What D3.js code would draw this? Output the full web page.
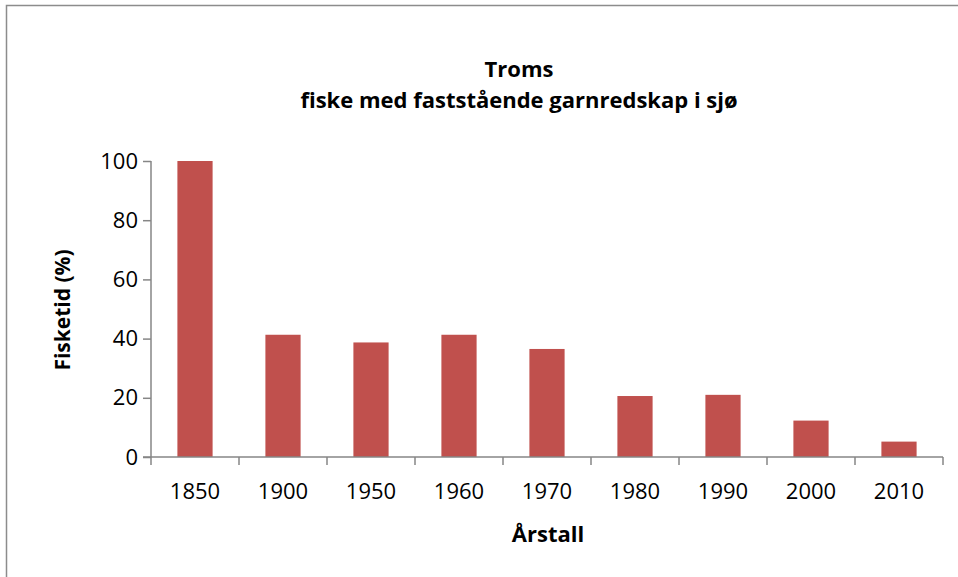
<!DOCTYPE html>
<html>
<head>
<meta charset="utf-8">
<script src="https://cdn.jsdelivr.net/npm/d3@7"></script>
<style>
  body { margin: 0; background: #fff; }
  svg { display: block; }
</style>
</head>
<body>
<svg id="chart"></svg>
<script>
// data
const years = ['1850', '1900', '1950', '1960', '1970', '1980', '1990', '2000', '2010'];
const fisketid = [100, 41.3, 38.7, 41.3, 36.5, 20.6, 21.0, 12.3, 5.2];
const yTicks = [0, 20, 40, 60, 80, 100];
const titleLines = ['Troms', 'fiske med faststående garnredskap i sjø'];

const W = 958, H = 577;
const margin = { top: 161, left: 151, right: 15, bottom: 120 };
const plotW = 943 - margin.left;
const plotH = 457 - margin.top;
const font = "'Open Sans', 'Noto Sans', sans-serif";
const axisColor = '#868686';

const svg = d3.select('#chart').attr('width', W).attr('height', H);

// outer chart border (right and bottom edge fall outside the picture)
svg.append('rect')
  .attr('x', 6.5).attr('y', 5.5)
  .attr('width', W + 10).attr('height', H + 10)
  .attr('fill', 'none')
  .attr('stroke', '#8c8c8c')
  .attr('stroke-width', 1.5);

const g = svg.append('g').attr('transform', `translate(${margin.left},${margin.top})`);

const x = d3.scaleBand()
  .domain(years)
  .range([0, plotW])
  .paddingInner(0.6)
  .paddingOuter(0.3);

// axis ticks sit on the boundaries between categories
const xEdge = d3.scaleBand().domain(years).range([0, plotW]).padding(0);

const y = d3.scaleLinear().domain([0, 100]).range([plotH, 0]);

// bars
g.selectAll('rect.bar')
  .data(years.map((yr, i) => ({ year: yr, value: fisketid[i] })))
  .join('rect')
  .attr('class', 'bar')
  .attr('x', d => x(d.year))
  .attr('y', d => y(d.value))
  .attr('width', x.bandwidth())
  .attr('height', d => plotH - y(d.value))
  .attr('fill', '#c0504d');

// y axis
const yAxisG = g.append('g')
  .call(d3.axisLeft(y).tickValues(yTicks).tickSize(8).tickPadding(5));
yAxisG.select('.domain').attr('stroke', axisColor).attr('stroke-width', 1.5)
  .attr('d', `M0,0V${plotH}`);
yAxisG.selectAll('.tick line').attr('stroke', axisColor).attr('stroke-width', 1.5);
yAxisG.selectAll('.tick text')
  .style('font-family', font)
  .style('font-size', '22px')
  .attr('fill', '#000');

// x axis: line plus boundary ticks
const xAxisG = g.append('g').attr('transform', `translate(0,${plotH})`);
xAxisG.append('line')
  .attr('x1', -8).attr('x2', plotW)
  .attr('stroke', axisColor).attr('stroke-width', 1.5);
const edges = years.map(d => xEdge(d)).concat([plotW]);
xAxisG.selectAll('line.tick')
  .data(edges)
  .join('line')
  .attr('class', 'tick')
  .attr('x1', d => d).attr('x2', d => d)
  .attr('y1', 0).attr('y2', 8)
  .attr('stroke', axisColor).attr('stroke-width', 1.5);
xAxisG.selectAll('text.lab')
  .data(years)
  .join('text')
  .attr('class', 'lab')
  .attr('x', d => x(d) + x.bandwidth() / 2)
  .attr('y', 42)
  .attr('text-anchor', 'middle')
  .style('font-family', font)
  .style('font-size', '22px')
  .text(d => d);

// titles
svg.append('text')
  .attr('x', 519).attr('y', 77)
  .attr('text-anchor', 'middle')
  .style('font-family', font).style('font-weight', 'bold').style('font-size', '22px')
  .text(titleLines[0]);
svg.append('text')
  .attr('x', 519).attr('y', 108)
  .attr('text-anchor', 'middle')
  .style('font-family', font).style('font-weight', 'bold').style('font-size', '22px')
  .text(titleLines[1]);

// axis titles
svg.append('text')
  .attr('x', 548).attr('y', 542)
  .attr('text-anchor', 'middle')
  .style('font-family', font).style('font-weight', 'bold').style('font-size', '22px')
  .text('Årstall');

svg.append('text')
  .attr('transform', 'translate(70,310) rotate(-90)')
  .attr('text-anchor', 'middle')
  .style('font-family', font).style('font-weight', 'bold').style('font-size', '21px')
  .text('Fisketid (%)');
</script>
</body>
</html>
